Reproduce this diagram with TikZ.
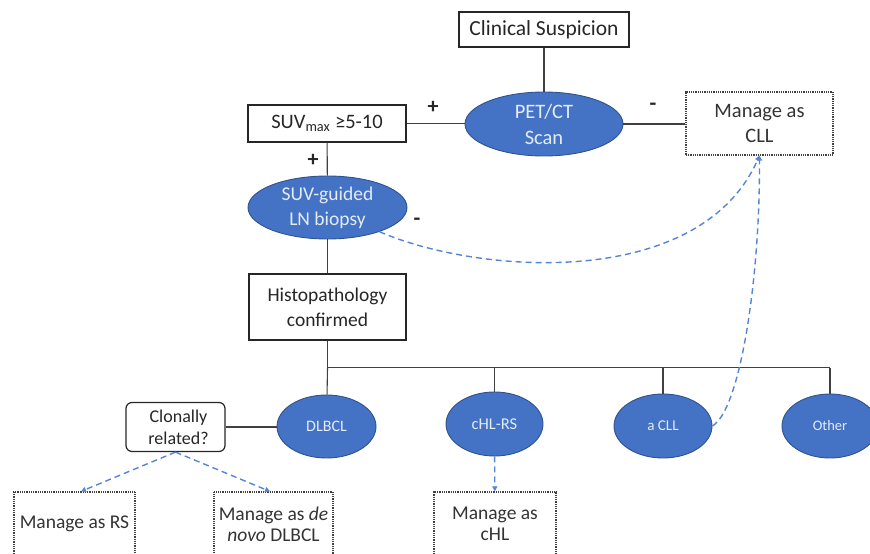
\documentclass[tikz,border=0pt]{standalone}
\usepackage{fontspec}
\setmainfont{Carlito}
\usetikzlibrary{arrows.meta,shapes.geometric}
\definecolor{ofblue}{HTML}{4472C4}
\definecolor{ofedge}{HTML}{2F528F}
\definecolor{dashblue}{HTML}{5585D5}
\definecolor{ovaltext}{HTML}{E4ECF7}
\definecolor{linegray}{HTML}{404040}
\begin{document}
\begin{tikzpicture}[x=1pt,y=-1pt,
 box/.style={draw=black!85, line width=1.2pt, align=center, inner sep=0pt, text=black!85},
 dotbox/.style={draw=black!75, dash pattern=on 1pt off 0.8pt, line width=1.2pt, align=center, inner sep=0pt, text=black!80, font=\fontsize{19.5}{21}\selectfont},
 oval/.style={ellipse, fill=ofblue, draw=ofedge, line width=0.9pt, text=ovaltext, align=center, inner sep=0pt},
 link/.style={draw=linegray, line width=1.1pt},
 dasharrow/.style={draw=dashblue, dash pattern=on 6pt off 4pt, line width=1.4pt, -{Triangle[length=5pt,width=5pt]}},
 sign/.style={font=\bfseries\fontsize{22}{22}\selectfont, inner sep=0pt, text=black!85}
]
\useasboundingbox (0,0) rectangle (870,554);
\clip (0,0) rectangle (870,554);

\node[box, minimum width=170, minimum height=35, font=\fontsize{21.5}{24}\selectfont] (cs) at (544,29.5) {Clinical Suspicion};
\node[oval, minimum width=158, minimum height=64, font=\fontsize{20.5}{26}\selectfont] (pet) at (544,124) {PET/CT\\Scan};
\node[box, minimum width=158, minimum height=37, font=\fontsize{20.5}{24}\selectfont] (suv) at (327,123.5) {SUV\textsubscript{max} ≥5-10};
\node[dotbox, minimum width=147, minimum height=63, font=\fontsize{20.5}{25}\selectfont] (cll) at (759.5,123.5) {Manage as\\CLL};
\node[oval, minimum width=159, minimum height=63, font=\fontsize{19.5}{25}\selectfont] (bio) at (327.5,207.5) {SUV-guided\\LN biopsy};
\node[box, minimum width=157, minimum height=66, font=\fontsize{19.5}{25}\selectfont] (histo) at (327.5,307) {Histopathology\\confirmed};

\node[oval, minimum width=99, minimum height=63, font=\fontsize{16}{18}\selectfont] (dlbcl) at (326.5,426.5) {DLBCL};
\node[oval, minimum width=97, minimum height=64, font=\fontsize{16.5}{18}\selectfont] (chl) at (494.5,424) {cHL-RS};
\node[oval, minimum width=98, minimum height=64, font=\fontsize{15}{18}\selectfont] (acll) at (663,426) {a CLL};
\node[oval, minimum width=96, minimum height=64, font=\fontsize{14.5}{18}\selectfont] (other) at (830,426) {Other};

\node[box, rounded corners=6pt, minimum width=99, minimum height=49, font=\fontsize{18}{22}\selectfont] (clon) at (175.5,427) {\hspace*{6pt}Clonally\\\hspace*{6pt}related?};

\node[dotbox, minimum width=121, minimum height=64] (mrs) at (74.5,524) {Manage as RS};
\node[dotbox, minimum width=119, minimum height=64] (mdn) at (273.5,524) {Manage as \textit{de}\\\textit{novo} DLBCL};
\node[dotbox, minimum width=122, minimum height=64] (mchl) at (495,524) {Manage as\\cHL};

\node[sign] (p1) at (433,107) {+};
\node[sign] (m1) at (653,107) {-};
\node[sign] (p2) at (313,160) {+};
\node[sign] (m2) at (417,222) {-};

\draw[link] (cs) -- (pet);
\draw[link] (suv.east) -- (suv.east -| pet.west);
\draw[link] (pet.east) -- (pet.east -| cll.west);
\draw[link] (suv) -- (bio);
\draw[link] (bio) -- (histo);
\draw[link] (histo.south) -- ++(0,27) coordinate (j0);
\draw[link] (j0) -- (j0 -| other.north);
\draw[link] (j0) -- (dlbcl);
\draw[link] (j0 -| chl.north) -- (chl);
\draw[link] (j0 -| acll.north) -- (acll);
\draw[link] (j0 -| other.north) -- (other);
\draw[link] (clon.east) -- (clon.east -| dlbcl.west);

\draw[dasharrow] (bio.-25) .. controls (480,275) and (700,290) .. (cll.south);
\draw[dasharrow] (acll.east) .. controls (740,410) and (760,280) .. (cll.south);
\draw[dasharrow] (clon.south) -- ([xshift=6.5pt]mrs.north);
\draw[dasharrow] (clon.south) -- ([xshift=-3.5pt]mdn.north);
\draw[dasharrow] (chl) -- (mchl);
\end{tikzpicture}
\end{document}
